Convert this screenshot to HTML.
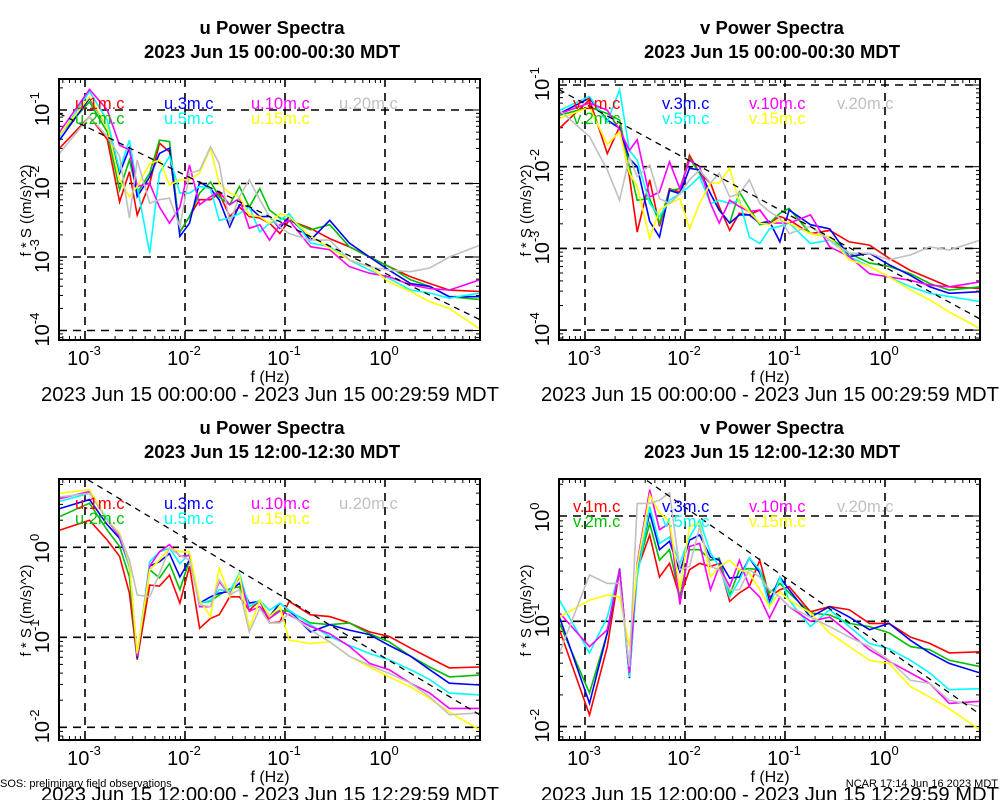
<!DOCTYPE html>
<html><head><meta charset="utf-8"><style>
body{margin:0;background:#fff;}
svg{display:block;font-family:"Liberation Sans",sans-serif;}
</style></head><body>
<svg id="chart" width="1000" height="800" viewBox="0 0 1000 800" xmlns="http://www.w3.org/2000/svg">
<rect width="1000" height="800" fill="#fff"/>
<text x="0" y="787" font-size="11">SOS: preliminary field observations</text>
<text x="998" y="787" font-size="11" text-anchor="end">NCAR 17:14 Jun 16 2023 MDT</text>
</svg>
<script>
// frequencies (Hz)
const freq=[5.56e-4,1.11e-3,1.67e-3,2.22e-3,2.78e-3,3.33e-3,4.44e-3,5.56e-3,7.0e-3,8.9e-3,1.11e-2,1.4e-2,1.8e-2,2.2e-2,2.8e-2,3.5e-2,4.4e-2,5.6e-2,7.0e-2,8.9e-2,0.11,0.18,0.28,0.44,0.7,1.1,1.8,2.8,4.4,8.9];
const seriesNames=["1m","2m","3m","5m","10m","15m","20m"];
const seriesColors=["#ff0000","#00c000","#0000ff","#00ffff","#ff00ff","#ffff00","#c0c0c0"];
// log10 values of f*S
// Panel 1: u 00:00
const u1_1m=[-1.52,-1.09,-1.4,-2.25,-1.84,-2.43,-2.0,-1.45,-1.57,-2.66,-2.45,-2.22,-2.22,-2.13,-2.45,-2.32,-2.45,-2.47,-2.54,-2.68,-2.5,-2.61,-2.75,-2.86,-3.0,-3.13,-3.27,-3.36,-3.45,-3.47];
const u1_2m=[-1.34,-0.89,-1.3,-2.09,-1.68,-2.13,-1.86,-1.41,-1.43,-2.66,-2.45,-2.13,-1.98,-2.18,-2.29,-2.04,-2.32,-2.07,-2.36,-2.47,-2.5,-2.63,-2.56,-2.86,-3.0,-3.13,-3.31,-3.4,-3.54,-3.58];
const u1_3m=[-1.41,-0.84,-1.23,-1.86,-1.52,-2.18,-1.91,-1.59,-1.52,-2.72,-2.54,-1.98,-2.07,-2.22,-2.59,-2.29,-2.32,-2.45,-2.45,-2.61,-2.45,-2.77,-2.5,-2.81,-3.0,-3.18,-3.36,-3.4,-3.54,-3.54];
const u1_5m=[-1.36,-0.75,-1.14,-1.82,-1.41,-2.04,-2.95,-1.86,-1.63,-2.13,-2.13,-2.04,-2.07,-2.5,-2.47,-2.41,-2.32,-2.66,-2.54,-2.5,-2.41,-2.81,-2.86,-3.04,-3.18,-3.29,-3.45,-3.49,-3.56,-3.49];
const u1_10m=[-1.3,-0.72,-1.0,-1.48,-1.54,-2.04,-2.0,-2.32,-2.54,-2.32,-1.75,-2.29,-2.18,-2.11,-2.29,-2.2,-2.61,-2.56,-2.77,-2.56,-2.5,-2.86,-2.9,-3.13,-3.22,-3.27,-3.38,-3.43,-3.45,-3.31];
const u1_15m=[-1.34,-0.82,-1.23,-1.95,-2.18,-2.04,-1.73,-1.68,-2.02,-1.95,-1.95,-1.86,-1.52,-2.0,-2.13,-2.18,-2.43,-2.45,-2.54,-2.41,-2.45,-2.72,-2.88,-3.04,-3.13,-3.34,-3.47,-3.61,-3.7,-3.98];
const u1_20m=[-1.59,-1.09,-1.36,-1.63,-2.47,-1.68,-2.27,-2.22,-2.2,-2.59,-1.86,-1.82,-1.5,-1.73,-2.54,-2.18,-1.95,-2.22,-2.45,-2.59,-2.68,-2.77,-2.77,-3.04,-3.13,-3.18,-3.2,-3.15,-3.0,-2.84];
// Panel 2: v 00:00
const v1_1m=[-1.53,-1.18,-1.84,-1.51,-2.12,-2.8,-2.16,-2.73,-2.27,-2.31,-1.86,-2.08,-2.2,-2.49,-2.78,-2.57,-2.59,-2.53,-2.69,-2.61,-2.65,-2.82,-2.78,-2.92,-2.96,-3.12,-3.27,-3.37,-3.47,-3.49];
const v1_2m=[-1.37,-1.27,-1.35,-1.43,-2.0,-2.41,-2.39,-2.69,-2.29,-2.27,-1.9,-2.08,-2.33,-2.53,-2.69,-2.31,-2.51,-2.71,-2.69,-2.57,-2.51,-2.82,-2.86,-3.06,-3.18,-3.22,-3.31,-3.43,-3.51,-3.47];
const v1_3m=[-1.35,-1.16,-1.43,-1.53,-1.9,-2.0,-2.67,-2.86,-2.29,-2.33,-2.02,-2.04,-2.33,-2.53,-2.69,-2.59,-2.59,-2.69,-2.67,-2.92,-2.53,-2.71,-2.76,-3.1,-3.06,-3.2,-3.33,-3.47,-3.55,-3.53];
const v1_5m=[-1.31,-1.14,-1.45,-1.06,-1.8,-1.92,-2.45,-2.61,-2.41,-2.33,-2.24,-2.12,-2.45,-2.41,-2.45,-2.41,-2.86,-2.94,-2.76,-2.73,-2.69,-2.94,-2.9,-3.1,-3.22,-3.35,-3.47,-3.55,-3.59,-3.65];
const v1_10m=[-1.35,-1.22,-1.31,-1.55,-1.8,-1.67,-2.37,-2.31,-1.94,-2.27,-1.92,-2.0,-2.45,-2.69,-2.41,-2.49,-2.55,-2.53,-2.69,-2.69,-2.69,-2.59,-2.98,-3.1,-3.31,-3.35,-3.39,-3.45,-3.47,-3.41];
const v1_15m=[-1.41,-1.27,-1.73,-1.57,-2.08,-2.24,-2.88,-2.53,-2.45,-2.39,-2.76,-2.45,-2.2,-2.2,-2.02,-2.45,-2.55,-2.69,-2.71,-2.65,-2.69,-2.82,-2.86,-3.14,-3.22,-3.35,-3.51,-3.63,-3.78,-3.98];
const v1_20m=[-1.31,-1.63,-2.04,-2.41,-1.88,-2.12,-1.98,-2.39,-2.45,-2.33,-2.16,-2.04,-2.2,-2.08,-2.37,-2.33,-2.16,-2.45,-2.55,-2.63,-2.82,-2.73,-2.9,-3.06,-3.06,-3.14,-3.08,-2.98,-3.02,-2.9];
// Panel 3: u 12:00
const u2_1m=[0.19,0.3,0.08,-0.1,-0.51,-1.25,-0.42,-0.43,-0.31,-0.62,-0.21,-0.9,-0.79,-0.75,-0.55,-0.55,-0.7,-0.59,-0.84,-0.83,-0.6,-0.75,-0.77,-0.84,-0.94,-0.99,-1.12,-1.23,-1.34,-1.33];
const u2_2m=[0.34,0.49,0.19,0.01,-0.33,-1.23,-0.25,-0.34,-0.18,-0.47,-0.14,-0.62,-0.6,-0.53,-0.46,-0.44,-0.66,-0.59,-0.77,-0.7,-0.71,-0.84,-0.86,-0.84,-0.96,-1.05,-1.21,-1.33,-1.44,-1.42];
const u2_3m=[0.43,0.53,0.25,0.1,-0.21,-1.23,-0.21,-0.16,-0.07,-0.33,-0.14,-0.62,-0.55,-0.51,-0.49,-0.4,-0.62,-0.6,-0.77,-0.62,-0.7,-0.94,-0.86,-0.92,-0.97,-1.09,-1.21,-1.36,-1.51,-1.53];
const u2_5m=[0.51,0.6,0.32,0.12,-0.21,-1.21,-0.16,-0.05,-0.01,-0.18,-0.07,-0.62,-0.59,-0.47,-0.49,-0.29,-0.66,-0.59,-0.7,-0.62,-0.7,-0.86,-0.99,-1.09,-1.18,-1.25,-1.36,-1.47,-1.62,-1.64];
const u2_10m=[0.54,0.62,0.3,0.12,-0.18,-1.21,-0.21,-0.05,0.03,-0.1,-0.09,-0.66,-0.66,-0.38,-0.53,-0.33,-0.71,-0.66,-0.79,-0.71,-0.75,-0.88,-0.96,-1.1,-1.29,-1.36,-1.51,-1.62,-1.79,-1.79];
const u2_15m=[0.6,0.64,0.3,0.16,-0.18,-1.18,-0.25,-0.14,-0.01,-0.05,-0.05,-0.59,-0.77,-0.23,-0.55,-0.31,-0.9,-0.59,-0.77,-0.66,-1.03,-1.07,-1.05,-1.21,-1.33,-1.44,-1.55,-1.68,-1.83,-2.03];
const u2_20m=[0.56,0.6,0.3,0.14,-0.14,-0.53,-0.55,-0.29,-0.01,-0.09,-0.14,-0.64,-0.66,-0.36,-0.53,-0.47,-0.94,-0.68,-0.84,-0.84,-0.73,-0.92,-1.05,-1.21,-1.31,-1.4,-1.51,-1.66,-1.86,-1.84];
// Panel 4: v 12:00
const v2_1m=[-1.08,-1.89,-1.24,-0.51,-1.49,-0.51,-0.18,-0.58,-0.45,-0.77,-0.51,-0.45,-0.48,-0.45,-0.81,-0.73,-0.67,-0.42,-0.77,-0.7,-0.67,-0.91,-0.86,-0.89,-1.02,-1.02,-1.15,-1.21,-1.3,-1.29];
const v2_2m=[-1.02,-1.68,-1.11,-0.5,-1.49,-0.51,-0.07,-0.42,-0.32,-0.77,-0.32,-0.32,-0.42,-0.4,-0.75,-0.51,-0.5,-0.51,-0.73,-0.64,-0.73,-0.92,-0.94,-1.02,-1.05,-1.11,-1.24,-1.27,-1.37,-1.43];
const v2_3m=[-0.96,-1.78,-1.11,-0.5,-1.54,-0.51,0.03,-0.32,-0.24,-0.53,-0.23,-0.18,-0.39,-0.42,-0.59,-0.58,-0.4,-0.54,-0.81,-0.58,-0.7,-0.96,-0.86,-0.96,-1.08,-1.02,-1.18,-1.3,-1.4,-1.49];
const v2_5m=[-0.8,-1.3,-0.96,-0.51,-1.53,-0.58,0.09,-0.26,-0.2,-0.45,-0.2,-0.04,-0.35,-0.48,-0.77,-0.61,-0.4,-0.51,-0.86,-0.58,-0.8,-1.05,-0.89,-1.05,-1.21,-1.26,-1.37,-1.49,-1.65,-1.64];
const v2_10m=[-0.92,-1.24,-1.08,-0.51,-1.49,-0.45,0.25,-0.13,-0.07,-0.84,-0.29,-0.26,-0.7,-0.48,-0.67,-0.42,-0.67,-0.77,-0.97,-0.77,-0.86,-1.0,-0.96,-1.11,-1.27,-1.38,-1.49,-1.59,-1.78,-1.76];
const v2_15m=[-0.96,-0.8,-0.75,-0.77,-1.24,-0.48,0.2,0.03,-0.05,-0.7,-0.1,-0.07,-0.58,-0.48,-0.42,-0.51,-0.54,-0.7,-0.86,-0.72,-0.8,-0.92,-1.11,-1.24,-1.37,-1.4,-1.62,-1.72,-1.83,-2.03];
const v2_20m=[-1.3,-0.56,-0.64,-0.64,-1.43,0.12,0.12,0.15,0.22,-0.51,-0.48,-0.1,-0.48,-0.51,-0.7,-0.7,-0.51,-0.58,-0.7,-0.77,-0.86,-0.96,-1.05,-1.15,-1.24,-1.37,-1.56,-1.59,-1.75,-1.81];
// reference slope line: log10(y) = intercept + slope*log10(f)
const refSlope=-2/3;
const refIntercepts=[-3.22,-3.23,-1.23,-1.25];
const refStartLogF=[-3.26,-3.26,-2.97,-2.38];
const panelTitles=["u Power Spectra","v Power Spectra","u Power Spectra","v Power Spectra"];
const panelSubtitles=["2023 Jun 15 00:00-00:30 MDT","2023 Jun 15 00:00-00:30 MDT","2023 Jun 15 12:00-12:30 MDT","2023 Jun 15 12:00-12:30 MDT"];
const panelDates=["2023 Jun 15 00:00:00 - 2023 Jun 15 00:29:59 MDT","2023 Jun 15 00:00:00 - 2023 Jun 15 00:29:59 MDT","2023 Jun 15 12:00:00 - 2023 Jun 15 12:29:59 MDT","2023 Jun 15 12:00:00 - 2023 Jun 15 12:29:59 MDT"];
const xTicks=[-3,-2,-1,0];
const yTicksTop=[-1,-2,-3,-4];
const yTicksBottom=[0,-1,-2];

const panelData=[
 [u1_1m,u1_2m,u1_3m,u1_5m,u1_10m,u1_15m,u1_20m],
 [v1_1m,v1_2m,v1_3m,v1_5m,v1_10m,v1_15m,v1_20m],
 [u2_1m,u2_2m,u2_3m,u2_5m,u2_10m,u2_15m,u2_20m],
 [v2_1m,v2_2m,v2_3m,v2_5m,v2_10m,v2_15m,v2_20m]];
const prefixes=["u","v","u","v"];
const NS="http://www.w3.org/2000/svg";
const svg=document.getElementById('chart');
function mk(tag,attrs,parent){const e=document.createElementNS(NS,tag);for(const k in attrs)e.setAttribute(k,attrs[k]);(parent||svg).appendChild(e);return e;}

const panels=[
 {ox:0,x0:59,x1:480,y0:79,y1:340,yRef:-1,yRefPx:110,ppd:73.5,ticks:yTicksTop,ty:0,legY:103},
 {ox:500,x0:559,x1:980,y0:79,y1:340,yRef:-1,yRefPx:85,ppd:81.7,ticks:yTicksTop,ty:0,legY:103},
 {ox:0,x0:59,x1:480,y0:479,y1:740,yRef:0,yRefPx:547.3,ppd:90,ticks:yTicksBottom,ty:400,legY:503},
 {ox:500,x0:559,x1:980,y0:479,y1:740,yRef:0,yRefPx:516,ppd:105.3,ticks:yTicksBottom,ty:400,legY:506}];

panels.forEach((p,pi)=>{
 const g=mk('g',{});
 
 
 const xAt=lf=>p.ox+85+100*(lf+3);
 const yAt=v=>p.yRefPx+p.ppd*(p.yRef-v);
 const cx=p.ox+272;
 let t=mk('text',{x:cx,y:p.ty+34,'font-size':18.5,'font-weight':'bold','text-anchor':'middle'},g);t.textContent=panelTitles[pi];
 
 
 t=mk('text',{x:cx,y:p.ty+58,'font-size':18.5,'font-weight':'bold','text-anchor':'middle'},g);t.textContent=panelSubtitles[pi];
 
 
 const cp=mk('clipPath',{id:'clip'+pi},g);mk('rect',{x:p.x0,y:p.y0,width:p.x1-p.x0,height:p.y1-p.y0},cp);
 xTicks.forEach(lf=>{const x=xAt(lf);const l=mk('line',{x1:x,x2:x,y1:p.y0,y2:p.y1,stroke:'#000','stroke-width':1.6,'stroke-dasharray':'8,6'},g);
  
  
  const tx=mk('text',{x:x-1,y:p.y1+25,'font-size':20,'text-anchor':'middle'},g);
  tx.innerHTML='10<tspan font-size="13" dy="-10">'+lf+'</tspan>';
  
  });
 p.ticks.forEach(v=>{const y=yAt(v);const l=mk('line',{x1:p.x0,x2:p.x1,y1:y,y2:y,stroke:'#000','stroke-width':1.6,'stroke-dasharray':'8,6'},g);
  
  
  const tx=mk('text',{x:0,y:0,'font-size':20,transform:'translate('+(p.ox+49)+','+(y+16)+') rotate(-90)'},g);
  tx.innerHTML='10<tspan font-size="13" dy="-10">'+v+'</tspan>';
  
  });
 const lfMin=(p.x0-p.ox-85)/100-3, lfMax=(p.x1-p.ox-85)/100-3;
 for(let d=-4;d<=1;d++)for(let m=1;m<=9;m++){const lf=d+Math.log10(m);if(lf<lfMin||lf>lfMax)continue;const x=xAt(lf);const L=m==1?7:4;
  mk('line',{x1:x,x2:x,y1:p.y1,y2:p.y1-L,stroke:'#000','stroke-width':1},g);mk('line',{x1:x,x2:x,y1:p.y0,y2:p.y0+L,stroke:'#000','stroke-width':1},g);}
 const vMin=p.yRef-(p.y1-p.yRefPx)/p.ppd, vMax=p.yRef+(p.yRefPx-p.y0)/p.ppd;
 for(let d=-6;d<=2;d++)for(let m=1;m<=9;m++){const v=d+Math.log10(m);if(v<vMin||v>vMax)continue;const y=yAt(v);const L=m==1?7:4;
  mk('line',{x1:p.x0,x2:p.x0+L,y1:y,y2:y,stroke:'#000','stroke-width':1},g);mk('line',{x1:p.x1,x2:p.x1-L,y1:y,y2:y,stroke:'#000','stroke-width':1},g);}
 const cg=mk('g',{'clip-path':'url(#clip'+pi+')'},g);
 panelData[pi].forEach((arr,si)=>{
  const pts=arr.map((v,i)=>xAt(Math.log10(freq[i])).toFixed(1)+','+yAt(v).toFixed(1)).join(' ');
  const pl=mk('polyline',{points:pts,fill:'none',stroke:seriesColors[si],'stroke-width':1.6,'stroke-linejoin':'miter'},cg);
  
  
 });
 const a=refIntercepts[pi];const l0=refStartLogF[pi],l1=0.95;
 const rl=mk('line',{x1:xAt(l0),y1:yAt(a+refSlope*l0),x2:xAt(l1),y2:yAt(a+refSlope*l1),stroke:'#000','stroke-width':1.3,'stroke-dasharray':'6,5'},cg);
 
 
 const fr=mk('rect',{x:p.x0,y:p.y0,width:p.x1-p.x0,height:p.y1-p.y0,fill:'none',stroke:'#000','stroke-width':2},g);
 
 
 const colX=[75,164,251,339];
 seriesNames.forEach((n,si)=>{const col=Math.floor(si/2),row=si%2;
  const lt=mk('text',{x:p.ox+colX[col]-(pi%2?2:0),y:p.legY+6+row*15,'font-size':16.5,fill:seriesColors[si]},g);
  lt.textContent=prefixes[pi]+'.'+n+'.c';
  
  });
 const xl=mk('text',{x:p.ox+270,y:p.y1+42,'font-size':16,'text-anchor':'middle'},g);xl.textContent='f (Hz)';
 
 
 const yl=mk('text',{x:0,y:0,'font-size':15,'text-anchor':'middle',transform:'translate('+(p.ox+31)+','+((p.y0+p.y1)/2+1)+') rotate(-90)'},g);yl.textContent='f * S ((m/s)^2)';
 
 
 const dl=mk('text',{x:p.ox+270,y:p.y1+61,'font-size':20.2,'text-anchor':'middle'},g);dl.textContent=panelDates[pi];
 
 
});
</script>
</body></html>
